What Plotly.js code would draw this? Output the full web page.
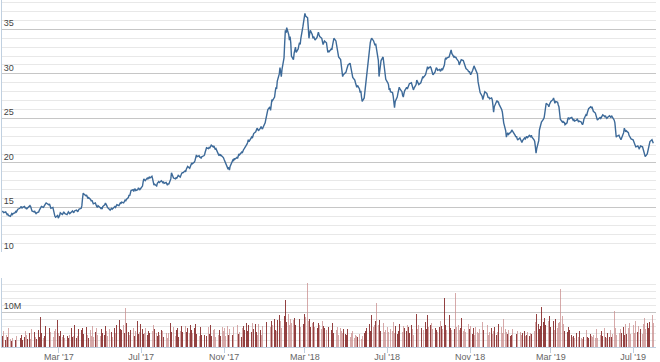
<!DOCTYPE html>
<html><head><meta charset="utf-8">
<script src="https://cdn.plot.ly/plotly-3.0.1.min.js"></script>
<style>html,body{margin:0;padding:0;background:#fff;} #chart{width:660px;height:362px;}</style>
</head><body><div id="chart"></div>
<script>
// First trading day of the series; one value per weekday follows.
const startDate = '2016-12-07';

// Daily closing price (grouped by month, Dec 2016 -> Jul 2019)
const price = [
14.6,14.5,14.4,14.5,14.3,14.2,14.3,14.1,14.0,14.2,14.3,14.2,14.3,14.4,14.6,14.5,14.7,14.8,
14.9,15.0,15.1,14.9,15.0,15.1,14.9,15.0,14.8,14.9,15.1,15.2,15.1,14.9,14.6,14.5,14.6,14.4,14.3,14.4,14.5,14.7,
14.9,15.0,15.1,15.0,15.2,15.3,15.4,15.5,15.4,15.3,15.4,15.2,14.9,15.0,14.6,14.3,14.0,13.9,14.1,13.8,
13.9,14.1,14.4,14.2,14.3,14.5,14.4,14.3,14.2,14.4,14.5,14.4,14.3,14.5,14.6,14.5,14.4,14.6,14.7,14.6,14.5,14.7,14.8,
14.9,15.2,16.0,16.6,16.5,16.3,16.4,16.2,16.0,16.1,15.9,15.7,15.8,15.6,15.4,15.5,15.2,15.1,15.0,15.2,
15.0,14.9,15.0,14.8,15.1,15.3,15.5,15.4,15.2,15.0,14.8,14.7,14.8,14.9,14.8,15.0,15.1,15.0,15.2,15.3,15.2,15.4,15.5,
15.4,15.6,15.5,15.7,15.8,15.7,15.9,16.1,16.4,16.3,16.6,16.9,17.0,16.8,17.0,17.1,16.9,17.0,17.2,17.1,17.0,17.1,
17.4,17.9,18.2,18.1,18.0,18.3,18.2,18.3,18.4,18.3,18.5,18.2,17.8,17.5,17.6,17.4,17.7,17.8,17.9,17.8,18.0,
17.9,17.8,17.9,17.7,17.8,17.6,17.5,17.7,17.6,18.2,18.9,18.7,18.5,18.3,18.2,18.4,18.3,18.5,18.6,18.4,18.7,18.8,18.9,
18.9,19.1,19.0,19.3,19.5,19.6,19.4,19.7,19.8,20.0,19.9,20.1,20.3,20.6,20.9,20.7,20.8,20.6,20.7,20.5,20.7,
20.8,20.9,21.2,21.5,21.7,21.6,21.8,21.7,21.9,22.0,21.8,21.9,21.7,21.5,21.6,21.2,20.9,21.0,20.8,20.9,20.7,20.6,
20.4,20.2,20.0,19.6,19.3,19.5,19.2,19.6,20.0,20.3,20.2,20.5,20.4,20.6,20.5,20.8,21.0,20.9,21.2,21.1,21.4,21.5,
21.6,21.9,22.1,22.3,22.6,22.4,22.7,22.9,22.8,23.0,23.3,23.5,23.7,23.9,23.8,23.6,23.9,24.1,23.9,23.8,24.0,
24.5,24.9,25.3,25.6,26.0,26.3,25.9,26.5,27.1,27.0,27.4,28.0,28.5,28.3,29.2,30.0,30.7,30.2,29.7,30.5,31.8,33.5,34.9,
34.6,35.2,34.4,33.8,34.2,33.5,32.0,31.6,32.3,32.7,33.0,32.4,32.8,33.2,33.5,33.3,34.0,35.3,35.9,36.4,
36.8,36.5,36.3,35.2,34.0,34.5,34.9,34.4,34.0,34.2,33.9,33.8,34.1,34.5,34.7,34.4,34.2,34.0,33.6,33.3,33.5,33.7,
33.5,33.0,32.4,32.6,32.5,32.8,32.7,33.2,33.6,34.0,33.7,33.2,32.7,32.4,31.9,31.6,31.0,30.4,29.7,29.9,30.1,
30.2,30.5,30.8,31.0,31.2,30.9,30.4,30.0,29.6,29.3,29.0,28.8,28.5,28.7,28.3,27.9,28.1,27.4,26.9,27.3,28.0,28.6,29.3,
30.4,31.8,32.6,33.5,33.8,34.0,33.7,33.5,33.2,33.4,32.9,31.5,29.7,30.2,30.8,31.5,31.9,31.2,30.4,29.7,29.4,
29.0,28.8,28.2,28.4,28.0,27.9,27.5,26.8,26.2,26.9,27.4,27.8,28.1,28.5,28.3,28.0,27.6,27.4,27.8,28.1,28.5,28.3,
28.5,28.7,28.9,29.0,28.8,28.5,28.2,28.4,28.8,29.3,29.1,29.0,28.8,29.0,29.2,29.5,29.7,29.6,29.9,30.2,30.5,30.8,30.6,
30.8,30.7,30.4,30.1,29.9,30.2,30.5,30.7,30.6,30.4,30.5,30.3,30.4,30.6,30.4,31.0,31.6,31.8,31.7,31.8,
31.9,32.2,32.5,32.7,32.3,31.9,32.0,31.8,31.9,31.7,31.4,31.0,31.2,31.4,31.6,31.5,31.2,30.9,30.8,30.6,30.4,30.2,30.3,
30.0,29.9,30.4,30.8,30.9,30.7,30.5,30.0,29.1,28.7,28.3,27.9,27.5,27.1,27.4,27.8,28.0,27.8,27.5,27.3,27.4,27.2,
27.3,27.1,26.5,25.7,26.3,26.9,27.0,26.8,26.9,26.6,26.2,26.0,25.7,25.2,24.5,23.6,22.9,23.2,23.4,23.2,23.4,
23.5,23.7,23.6,23.4,23.1,22.9,23.0,22.7,22.6,22.8,22.6,22.4,22.3,22.5,22.8,22.7,22.9,23.0,22.8,23.1,23.0,22.9,23.1,
22.9,22.6,22.4,21.8,21.1,21.6,22.5,23.7,24.0,24.3,24.6,24.9,25.1,25.6,26.2,26.7,26.5,26.3,26.6,26.8,
26.9,27.1,27.3,27.0,26.7,26.9,26.8,26.5,26.3,25.6,24.9,24.6,24.7,24.5,24.6,24.3,24.5,24.9,25.1,24.9,25.0,
25.1,24.9,24.8,24.9,24.7,24.8,24.9,24.8,24.6,24.7,24.6,24.4,24.3,24.5,24.9,25.4,25.3,25.6,25.9,26.1,26.3,26.2,
26.3,26.0,25.8,25.6,25.3,25.0,24.8,24.9,25.1,25.0,25.2,25.3,25.4,25.2,25.3,25.1,25.0,25.1,25.3,25.2,25.1,25.3,25.2,
24.8,24.5,23.8,22.9,23.0,23.1,22.9,22.8,22.6,22.8,23.4,23.9,23.7,23.5,23.6,23.4,23.1,23.0,22.9,22.7,
22.6,22.4,22.3,22.0,21.8,21.9,21.7,21.6,21.7,21.9,21.8,21.5,21.2,20.9,20.7,21.0,21.4,21.8,22.0,22.4,22.6,22.3,22.2
];

// Daily volume in millions of shares (same trading days)
const volumeM = [
3.1,2.4,4.6,2.0,3.5,1.8,2.9,5.5,2.2,3.8,1.6,2.7,4.1,2.3,1.9,3.2,2.5,3.9,
5.8,2.6,3.4,4.2,2.1,3.0,4.7,2.5,3.6,2.2,4.0,3.1,2.4,5.2,3.3,2.0,4.4,2.8,3.7,2.3,4.9,3.0,
3.5,8.6,4.1,2.7,5.0,3.2,6.1,4.4,3.0,13.0,5.6,4.2,3.4,6.4,2.9,4.7,3.6,5.3,7.8,4.0,
6.2,3.1,4.5,2.8,5.1,3.6,2.5,4.3,6.0,3.2,2.7,4.8,3.5,5.6,2.9,4.0,3.3,6.3,2.6,4.6,3.1,5.2,7.9,
4.9,6.8,5.5,3.7,4.4,2.9,5.9,3.4,4.1,2.6,5.0,3.3,4.6,6.1,3.0,4.2,2.8,5.4,3.6,7.5,
4.3,3.1,5.2,2.7,4.0,3.5,6.0,2.9,4.6,3.2,5.1,2.5,3.8,4.4,2.8,5.5,3.4,4.1,6.2,3.0,4.7,7.9,5.3,
8.0,4.8,6.3,3.9,5.5,11.2,6.8,4.2,5.9,3.6,4.9,7.2,4.0,5.4,3.3,6.1,4.5,7.5,3.8,5.0,4.3,6.6,
5.2,3.7,6.0,4.1,5.5,3.4,7.3,4.6,3.9,5.8,3.2,4.7,6.4,3.6,5.1,4.0,3.1,5.6,4.3,3.5,4.9,
3.0,4.5,2.8,5.3,3.6,4.1,2.6,5.0,3.9,7.0,4.4,6.2,3.4,5.7,3.1,4.8,3.7,5.4,2.9,4.6,3.5,6.0,4.2,
5.1,3.8,6.1,4.4,3.2,5.6,4.0,6.3,3.5,4.9,3.9,5.4,4.3,6.6,3.7,5.0,4.1,3.3,5.8,4.5,3.6,
4.7,3.4,5.5,4.0,3.1,5.9,3.7,4.5,6.2,3.3,4.8,3.9,5.3,2.9,4.4,6.5,3.6,5.0,4.1,3.2,5.7,4.6,
3.8,5.4,3.1,6.0,4.3,3.5,5.1,2.9,4.7,3.6,5.8,4.0,3.3,4.9,6.3,3.7,5.2,4.4,3.0,5.6,4.1,6.1,
5.0,6.8,11.4,4.7,6.2,3.9,5.6,4.4,7.0,3.8,5.3,6.5,4.2,5.9,3.6,6.7,4.8,5.4,3.5,6.0,4.6,
6.4,4.9,7.2,5.5,6.8,4.6,5.9,7.6,5.2,6.3,8.1,5.0,6.9,4.7,7.8,9.2,6.1,7.4,5.6,8.3,6.6,9.0,13.6,
8.9,7.1,9.4,6.3,14.4,8.2,6.8,7.7,5.9,8.5,6.4,7.3,5.6,6.9,8.0,5.8,7.5,9.3,6.7,9.5,
7.9,8.6,18.4,7.4,6.5,8.1,5.8,6.9,5.3,7.2,5.9,8.3,6.2,5.5,7.0,9.6,6.4,5.1,7.6,4.9,6.0,5.4,
4.8,6.3,4.4,5.7,3.9,5.0,4.6,6.8,4.1,5.3,3.7,4.9,5.8,4.2,3.6,5.5,4.5,6.1,4.0,5.2,3.8,
4.6,3.5,5.1,3.2,4.3,2.8,3.9,3.0,4.5,2.7,3.6,2.5,3.3,2.9,3.8,2.6,3.4,2.4,3.1,4.0,2.8,4.7,5.6,
8.3,5.2,6.6,4.7,7.1,9.3,5.8,6.4,4.9,7.4,12.6,6.2,5.3,7.7,4.6,6.0,5.1,6.9,4.4,5.6,4.8,
5.9,4.3,6.5,3.8,5.2,4.6,7.2,5.5,4.1,6.0,3.7,5.3,4.5,6.7,10.5,5.0,4.2,6.1,3.9,5.4,4.7,6.3,
4.4,5.7,3.9,6.2,4.8,5.1,3.6,6.6,4.5,9.5,5.3,4.0,6.4,4.7,5.6,3.8,6.0,4.9,7.1,5.2,4.3,9.3,5.8,
6.3,4.6,7.0,5.1,4.2,6.5,5.4,4.8,6.9,4.4,5.7,7.4,4.9,6.1,5.3,14.0,7.8,6.4,5.0,7.2,
6.0,9.3,5.5,7.6,4.8,6.7,5.2,15.6,7.1,5.8,6.4,4.9,7.3,5.6,8.4,4.6,6.2,5.1,4.3,5.9,4.7,6.5,5.3,
4.4,6.1,3.7,5.5,4.9,3.4,5.8,4.2,6.9,3.9,5.2,4.6,3.3,7.1,4.8,3.6,5.6,4.0,6.3,3.5,5.0,4.3,
5.4,3.8,6.2,4.5,5.9,3.6,5.1,4.3,6.6,3.9,4.8,5.7,4.1,6.4,8.0,5.3,4.4,6.8,3.7,4.9,3.2,
4.6,3.5,5.3,4.0,3.2,5.8,3.7,4.5,3.0,5.1,4.2,3.4,6.0,3.9,4.7,3.1,5.5,3.6,4.4,3.3,5.0,4.1,3.8,
5.2,6.4,4.5,7.3,5.8,9.5,6.6,5.1,7.9,6.0,11.4,7.2,5.7,8.3,6.4,5.3,7.6,6.1,8.8,5.9,
6.7,5.4,7.5,4.9,6.2,8.1,5.6,6.9,4.8,7.3,16.7,9.0,5.9,6.5,4.6,5.3,7.0,4.4,5.8,3.9,5.0,
3.6,2.8,4.2,3.1,2.6,3.9,2.4,3.3,2.9,4.5,2.7,3.5,2.3,3.0,6.0,3.8,4.9,2.8,3.4,2.5,3.7,3.1,
4.4,2.9,3.6,2.5,3.2,5.2,2.7,3.9,2.4,3.4,4.6,2.6,3.1,5.5,2.8,3.7,2.5,4.1,3.0,4.8,3.3,2.9,3.8,
10.5,4.2,5.6,3.5,6.3,4.7,3.9,5.2,7.1,4.0,5.8,3.6,4.9,6.6,3.8,5.4,4.3,6.9,3.7,5.0,
4.5,6.2,3.9,5.7,7.6,4.3,6.0,4.8,7.9,5.1,3.8,6.5,4.6,8.4,5.3,6.8,9.7,5.5,7.3,8.0,6.1,9.2,7.0
];

const priceTicks = [10, 15, 20, 25, 30, 35];
const volumeTicks = [0, 10000000, 20000000];
const volumeTickText = ['', '10M', ''];

function tradingDays(start, n) {
  const out = [];
  const d = new Date(start + 'T00:00:00Z');
  while (out.length < n) {
    const wd = d.getUTCDay();
    if (wd !== 0 && wd !== 6) out.push(d.toISOString().slice(0, 10));
    d.setUTCDate(d.getUTCDate() + 1);
  }
  return out;
}

const n = Math.max(price.length, volumeM.length);
const dates = tradingDays(startDate, n);
const volume = volumeM.map(v => v * 1e6);
const barColors = volumeM.map((v, i) => (i === 0 || price[i] >= price[i - 1]) ? 'rgba(128,32,32,0.85)' : 'rgba(200,140,140,0.75)');

const traces = [
  { type: 'scatter', mode: 'lines', x: dates.slice(0, price.length), y: price,
    line: { color: '#3d6a99', width: 1.4 }, xaxis: 'x', yaxis: 'y', hoverinfo: 'x+y' },
  { type: 'bar', x: dates.slice(0, volume.length), y: volume,
    marker: { color: barColors, line: { width: 0 } }, width: 86400000 * 0.95,
    xaxis: 'x', yaxis: 'y2' }
];

const gridMajor = '#c6c6c6';
const gridMinor = '#e8e8e8';
const axisLine = '#c0d0e0';

const layout = {
  width: 660, height: 362,
  margin: { l: 2, r: 4, t: 0, b: 15 },
  paper_bgcolor: '#ffffff', plot_bgcolor: '#ffffff',
  showlegend: false, bargap: 0,
  font: { family: '"Lucida Grande", "Liberation Sans", Arial, sans-serif', size: 9, color: '#666666' },
  xaxis: {
    type: 'date', anchor: 'y2', range: ['2016-12-06 12:00', '2019-08-04'],
    tick0: '2017-03-01', dtick: 'M4', tickformat: "%b '%y",
    ticks: 'outside', ticklen: 5, tickcolor: axisLine, tickwidth: 1,
    ticklabelstandoff: -4,
    showline: true, linecolor: axisLine, linewidth: 1,
    showgrid: false, zeroline: false
  },
  yaxis: {
    domain: [0.274, 1], range: [10, 38.3],
    tickmode: 'array', tickvals: priceTicks,
    ticklabelposition: 'inside top', ticks: '',
    showgrid: true, gridcolor: gridMajor, gridwidth: 1,
    minor: { tickmode: 'linear', tick0: 0, dtick: 1, showgrid: true, gridcolor: gridMinor, gridwidth: 1 },
    showline: true, linecolor: axisLine, linewidth: 1, zeroline: false
  },
  yaxis2: {
    domain: [0, 0.2], range: [0, 20000000],
    tickmode: 'array', tickvals: volumeTicks, ticktext: volumeTickText,
    ticklabelposition: 'inside top', ticks: '',
    showgrid: true, gridcolor: gridMajor, gridwidth: 1,
    minor: { tickmode: 'linear', tick0: 0, dtick: 2000000, showgrid: true, gridcolor: gridMinor, gridwidth: 1 },
    showline: true, linecolor: axisLine, linewidth: 1, zeroline: false
  }
};

Plotly.newPlot('chart', traces, layout, { staticPlot: true, displayModeBar: false });
</script>
</body></html>
